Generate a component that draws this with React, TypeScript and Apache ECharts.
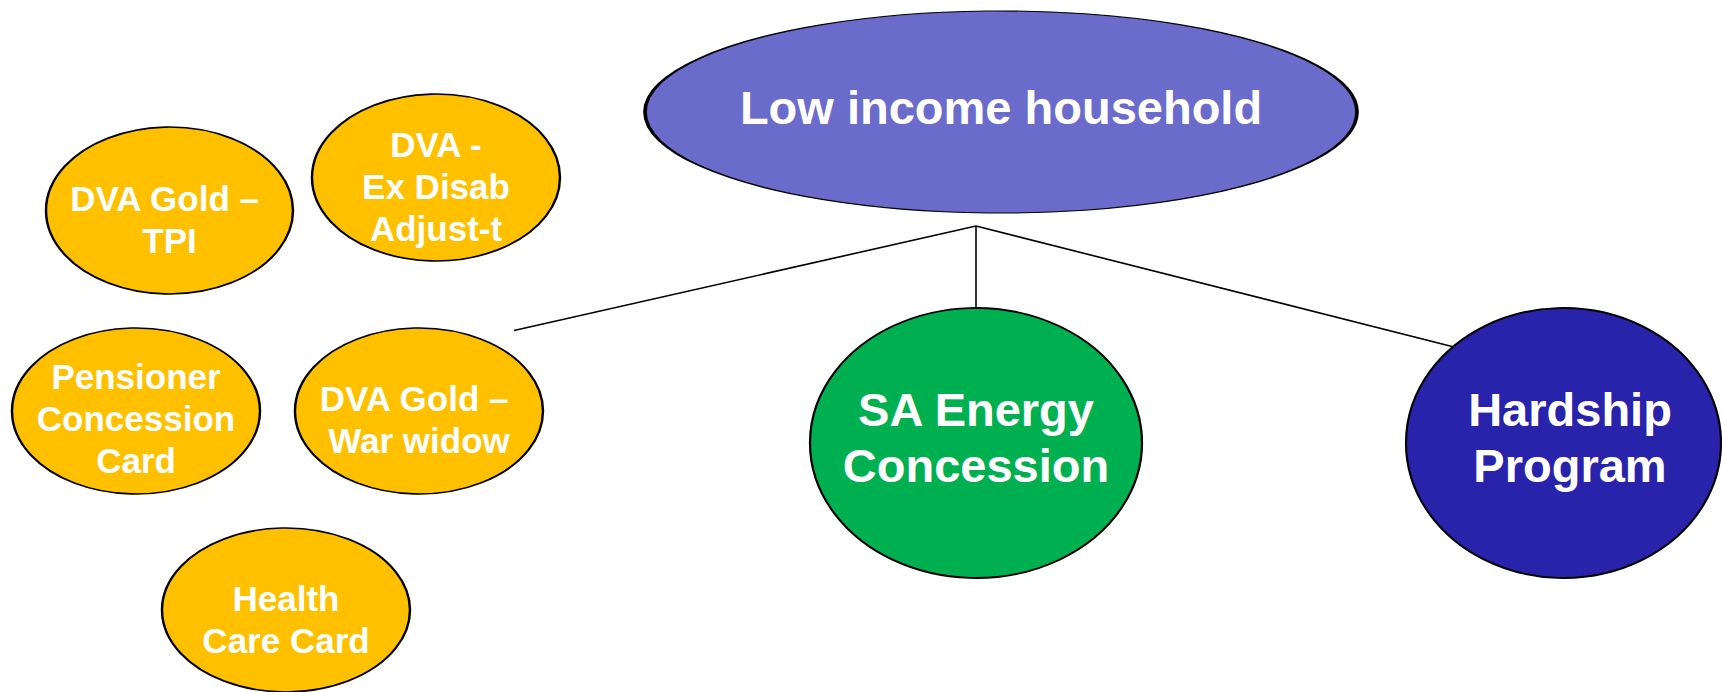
import React, { useEffect, useRef } from "react";
import * as echarts from "echarts";

// ---- data ----
const nodeNames = [
  "Low income household",
  "SA Energy Concession",
  "Hardship Program",
  "DVA Gold – TPI",
  "DVA - Ex Disab Adjust-t",
  "Pensioner Concession Card",
  "DVA Gold – War widow",
  "Health Care Card",
];
const nodeLabels = [
  "Low income household",
  "SA Energy\nConcession",
  "Hardship\nProgram",
  "DVA Gold – \nTPI",
  "DVA -\nEx Disab\nAdjust-t",
  "Pensioner\nConcession\nCard",
  "DVA Gold – \nWar widow",
  "Health\nCare Card",
];
const nodeKinds = ["root", "main", "hardship", "card", "card", "card", "card", "card"];

// connector points (junction + line ends)
const connectorNames = ["junction", "leftEnd", "midEnd", "rightEnd"];
const linkPairs: [string, string][] = [
  ["junction", "leftEnd"],
  ["junction", "midEnd"],
  ["junction", "rightEnd"],
];

// ---- layout (pixel positions / sizes) ----
const nodeCenters: [number, number][] = [
  [1001, 112],
  [976, 443],
  [1563.5, 443],
  [169.5, 210.5],
  [436, 177.5],
  [136, 411],
  [419, 411],
  [286, 610],
];
const nodeSizes: [number, number][] = [
  [712, 202],
  [332, 270],
  [315, 270],
  [247, 167],
  [248, 167],
  [248, 166],
  [248, 166],
  [248, 164],
];
const labelOffsets: [number, number][] = [
  [0, -5],
  [0, -6],
  [6.5, -6],
  [0, 8.5],
  [0, 8.5],
  [0, 7.5],
  [0, 8.5],
  [0, 9],
];
const connectorPoints: [number, number][] = [
  [976, 226],
  [514, 330.5],
  [976, 309],
  [1454, 347],
];

const kindStyle: Record<string, { color: string; fontSize: number; lineHeight: number }> = {
  root: { color: "#6B6BCC", fontSize: 47, lineHeight: 56 },
  main: { color: "#00B050", fontSize: 47, lineHeight: 56 },
  hardship: { color: "#2922AB", fontSize: 47, lineHeight: 56 },
  card: { color: "#FFC000", fontSize: 35, lineHeight: 42 },
};

export default function App() {
  const ref = useRef<HTMLDivElement>(null);
  useEffect(() => {
    if (!ref.current) return;
    const chart = echarts.init(ref.current, undefined, { renderer: "svg" });

    const nodes: any[] = nodeNames.map((name, i) => {
      const st = kindStyle[nodeKinds[i]];
      return {
        name,
        value: nodeCenters[i],
        symbol: "circle",
        symbolSize: nodeSizes[i],
        itemStyle: { color: st.color, borderColor: "#000", borderWidth: 2 },
        label: {
          show: true,
          position: "inside",
          formatter: nodeLabels[i],
          color: "#fff",
          fontFamily: "Liberation Sans, Arial, sans-serif",
          fontWeight: "bold",
          fontSize: st.fontSize,
          lineHeight: st.lineHeight,
          offset: labelOffsets[i],
        },
        z: 3,
      };
    });
    connectorNames.forEach((name, i) => {
      nodes.push({
        name,
        value: connectorPoints[i],
        symbol: "circle",
        symbolSize: 0,
        itemStyle: { opacity: 0 },
        label: { show: false },
      });
    });

    chart.setOption({
      animation: false,
      backgroundColor: "#fff",
      grid: { left: 0, top: 0, right: 0, bottom: 0 },
      xAxis: { type: "value", min: 0, max: 1722, show: false },
      yAxis: { type: "value", min: 0, max: 692, inverse: true, show: false },
      series: [
        {
          type: "graph",
          coordinateSystem: "cartesian2d",
          layout: "none",
          silent: true,
          data: nodes,
          links: linkPairs.map(([s, t]) => ({ source: s, target: t })),
          lineStyle: { color: "#000", width: 1.6, opacity: 1, curveness: 0 },
          emphasis: { disabled: true },
        },
      ],
    });
    return () => chart.dispose();
  }, []);
  return (
    <div
      ref={ref}
      style={{ position: "fixed", left: 0, top: 0, width: 1722, height: 692 }}
    />
  );
}
